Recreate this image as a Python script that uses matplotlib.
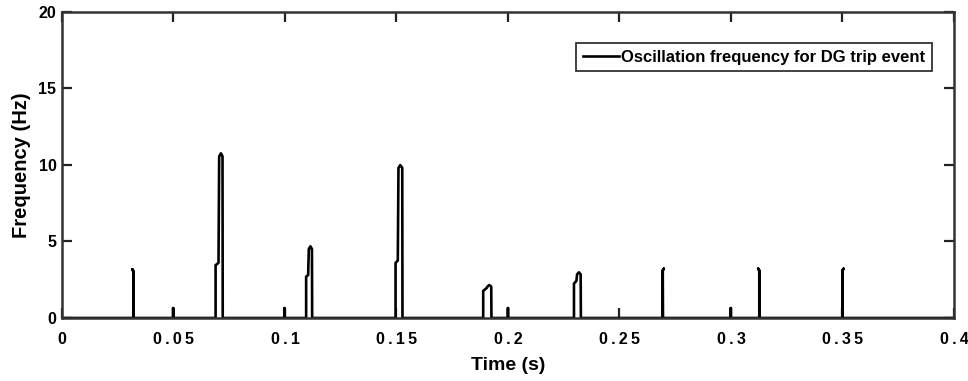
import matplotlib
matplotlib.use("Agg")
import matplotlib.pyplot as plt

plt.rcParams['font.family'] = ['Liberation Sans', 'DejaVu Sans']
plt.rcParams['font.weight'] = 'bold'

# Oscillation frequency trace (time in s, frequency in Hz)
time_s = [
    0.0000, 0.0320, 0.0320, 0.0316, 0.0320, 0.0321,
    0.0498, 0.0498, 0.0500, 0.0500,
    0.0689, 0.0689, 0.0702, 0.0705, 0.0713, 0.0720, 0.0721,
    0.0997, 0.0997, 0.0999, 0.0999,
    0.1095, 0.1095, 0.1104, 0.1107, 0.1114, 0.1121, 0.1122,
    0.1496, 0.1496, 0.1506, 0.1509, 0.1517, 0.1526, 0.1527,
    0.1889, 0.1889, 0.1904, 0.1908, 0.1916, 0.1925, 0.1926,
    0.1999, 0.1999, 0.2001, 0.2001,
    0.2296, 0.2296, 0.2307, 0.2310, 0.2318, 0.2326, 0.2327,
    0.2694, 0.2694, 0.2699, 0.2694, 0.2695,
    0.2998, 0.2998, 0.3000, 0.3000,
    0.3127, 0.3127, 0.3122, 0.3127, 0.3128,
    0.3500, 0.3500, 0.3505, 0.3500, 0.3501,
    0.4000,
]
freq_hz = [
    0.00, 0.00, 3.05, 3.18, 3.05, 0.00,
    0.00, 0.65, 0.65, 0.00,
    0.00, 3.45, 3.60, 10.55, 10.75, 10.55, 0.00,
    0.00, 0.65, 0.65, 0.00,
    0.00, 2.70, 2.80, 4.50, 4.68, 4.50, 0.00,
    0.00, 3.60, 3.75, 9.80, 9.98, 9.80, 0.00,
    0.00, 1.77, 1.95, 2.05, 2.15, 2.05, 0.00,
    0.00, 0.65, 0.65, 0.00,
    0.00, 2.25, 2.42, 2.85, 2.98, 2.85, 0.00,
    0.00, 3.10, 3.22, 3.10, 0.00,
    0.00, 0.65, 0.65, 0.00,
    0.00, 3.10, 3.22, 3.10, 0.00,
    0.00, 3.10, 3.22, 3.10, 0.00,
    0.00,
]

x_ticks = [0, 0.05, 0.1, 0.15, 0.2, 0.25, 0.3, 0.35, 0.4]
x_tick_labels = ['0', '0.05', '0.1', '0.15', '0.2', '0.25', '0.3', '0.35', '0.4']
y_ticks = [0, 5, 10, 15, 20]

fig = plt.figure(figsize=(9.68, 3.81), dpi=100)
ax = fig.add_axes([0.064, 0.1654, 0.9215, 0.804])

ax.plot(time_s, freq_hz, color='black', linewidth=1.9,
        label='Oscillation frequency for DG trip event')

ax.set_xlim(0, 0.4)
ax.set_ylim(0, 20)
ax.set_xticks(x_ticks)
ax.set_xticklabels(['\u2009'.join(lbl) for lbl in x_tick_labels])
ax.set_yticks(y_ticks)

ax.tick_params(direction='in', length=7, width=1.6, top=True, right=True,
               labelsize=11.5, colors='#222222', labelcolor='black')
ax.tick_params(axis='x', pad=10)
ax.tick_params(axis='y', pad=4)
for lbl in ax.get_xticklabels() + ax.get_yticklabels():
    lbl.set_fontweight('bold')
for sp in ax.spines.values():
    sp.set_linewidth(1.8)
    sp.set_color('#333333')

ax.set_xlabel('Time (s)', fontsize=14, fontweight='bold', labelpad=7)
ax.set_ylabel('Frequency (Hz)', fontsize=14.5, fontweight='bold', labelpad=5)

leg = ax.legend(loc='upper right', bbox_to_anchor=(0.9753, 0.898),
                fontsize=12, frameon=True, fancybox=False,
                handlelength=2.15, handletextpad=0.15, borderpad=0.4,
                borderaxespad=0)
leg.get_frame().set_edgecolor('black')
leg.get_frame().set_linewidth(1.3)
for t in leg.get_texts():
    t.set_fontweight('bold')

fig.savefig('out.png', dpi=100, facecolor='white')
